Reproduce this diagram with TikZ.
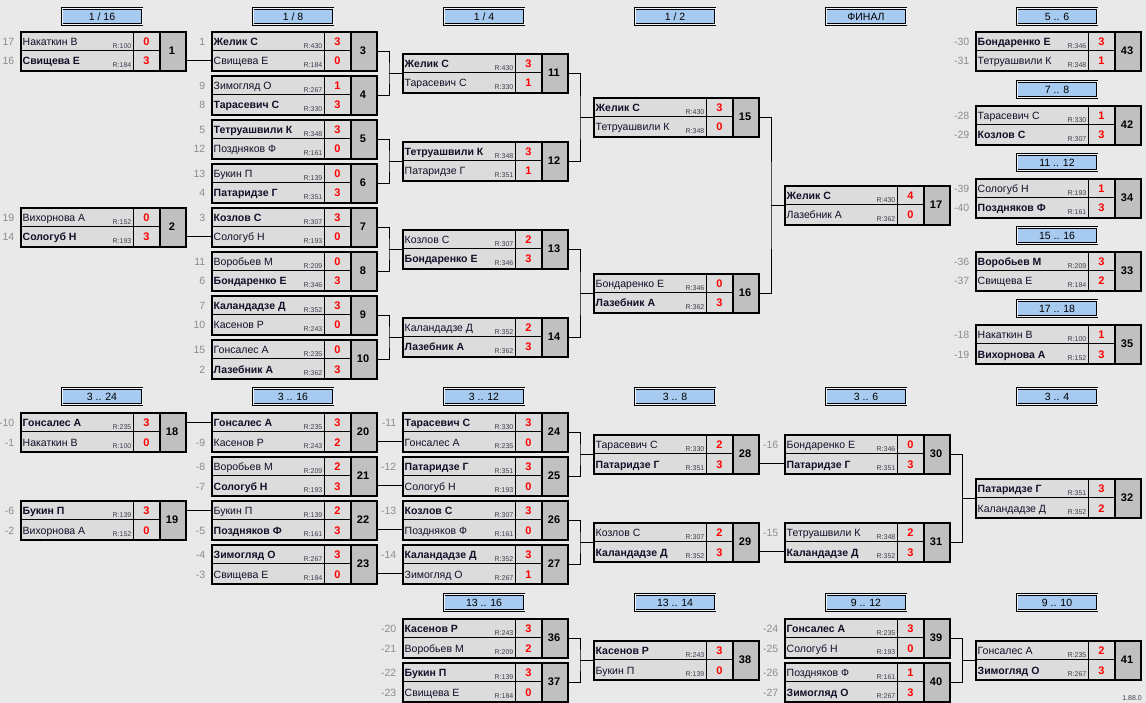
\documentclass[tikz,border=0pt]{standalone}
\usepackage{fontspec}
\setmainfont{Liberation Sans}
\usetikzlibrary{calc}
\definecolor{bg}{HTML}{E9E9E9}
\definecolor{rowfill}{HTML}{DCDCDC}
\definecolor{numfill}{HTML}{C0C0C0}
\definecolor{hblue}{HTML}{A6CAF0}
\definecolor{hgap}{HTML}{EEF3FA}
\definecolor{seedgray}{HTML}{8C8C8C}
\definecolor{rtext}{HTML}{404050}
\definecolor{ntext}{HTML}{101028}
\begin{document}
\begin{tikzpicture}[x=1pt,y=-1pt,
  conn/.style={draw=black,line width=1pt},
  frame/.style={draw=black,line width=2pt,minimum width=165pt,minimum height=39pt,inner sep=0pt,anchor=north west},
  hdr/.style={draw=black,line width=0.9pt,double=hgap,double distance=1pt,fill=hblue,minimum width=80pt,minimum height=16pt,inner sep=0pt,font=\fontsize{10.5}{12}\selectfont},
  pname/.style={anchor=base west,inner sep=0pt,text=ntext,font=\fontsize{10.5}{12}\selectfont},
  prat/.style={anchor=base east,inner sep=0pt,text=rtext,font=\fontsize{7}{8}\selectfont},
  pscore/.style={anchor=base,inner sep=0pt,text=red,font=\bfseries\fontsize{11}{12}\selectfont},
  pnum/.style={anchor=center,inner sep=0pt,font=\bfseries\fontsize{11}{12}\selectfont},
  pseed/.style={anchor=base east,inner sep=0pt,text=seedgray,font=\fontsize{10.5}{12}\selectfont}]
\fill[bg] (0,0) rectangle (1146,703);
\useasboundingbox (0,0) rectangle (1146,703);

% headers
\foreach \C/\Y/\T [count=\i] in {
 0/7/{1 / 16}, 1/7/{1 / 8}, 2/7/{1 / 4}, 3/7/{1 / 2}, 4/7/{ФИНАЛ}, 5/7/{5 .. 6},
 5/80/{7 .. 8}, 5/153/{11 .. 12}, 5/226/{15 .. 16}, 5/299/{17 .. 18},
 0/387/{3 .. 24}, 1/387/{3 .. 16}, 2/387/{3 .. 12}, 3/387/{3 .. 8}, 4/387/{3 .. 6}, 5/387/{3 .. 4},
 2/593/{13 .. 16}, 3/593/{13 .. 14}, 4/593/{9 .. 12}, 5/593/{9 .. 10}}{
  \pgfmathsetmacro\X{19.5+191*\C+82.5}
  \pgfmathsetmacro\YY{\Y+9.5}
  \node[hdr] (h\i) at (\X,\YY) {\T};
}

% matches: id/col/top/winner/nameA/rA/sA/nameB/rB/sB/seedA/seedB
\foreach \M/\C/\Y/\W/\pA/\rA/\sA/\pB/\rB/\sB/\kA/\kB in {
 1/0/31/2/Накаткин В/100/0/Свищева Е/184/3/17/16,
 2/0/207/2/Вихорнова А/152/0/Сологуб Н/193/3/19/14,
 3/1/31/1/Желик С/430/3/Свищева Е/184/0/1/{},
 4/1/75/2/Зимогляд О/267/1/Тарасевич С/330/3/9/8,
 5/1/119/1/Тетруашвили К/348/3/Поздняков Ф/161/0/5/12,
 6/1/163/2/Букин П/139/0/Патаридзе Г/351/3/13/4,
 7/1/207/1/Козлов С/307/3/Сологуб Н/193/0/3/{},
 8/1/251/2/Воробьев М/209/0/Бондаренко Е/346/3/11/6,
 9/1/295/1/Каландадзе Д/352/3/Касенов Р/243/0/7/10,
 10/1/339/2/Гонсалес А/235/0/Лазебник А/362/3/15/2,
 11/2/53/1/Желик С/430/3/Тарасевич С/330/1/{}/{},
 12/2/141/1/Тетруашвили К/348/3/Патаридзе Г/351/1/{}/{},
 13/2/229/2/Козлов С/307/2/Бондаренко Е/346/3/{}/{},
 14/2/317/2/Каландадзе Д/352/2/Лазебник А/362/3/{}/{},
 15/3/97/1/Желик С/430/3/Тетруашвили К/348/0/{}/{},
 16/3/273/2/Бондаренко Е/346/0/Лазебник А/362/3/{}/{},
 17/4/185/1/Желик С/430/4/Лазебник А/362/0/{}/{},
 43/5/31/1/Бондаренко Е/346/3/Тетруашвили К/348/1/-30/-31,
 42/5/105/2/Тарасевич С/330/1/Козлов С/307/3/-28/-29,
 34/5/178/2/Сологуб Н/193/1/Поздняков Ф/161/3/-39/-40,
 33/5/251/1/Воробьев М/209/3/Свищева Е/184/2/-36/-37,
 35/5/324/2/Накаткин В/100/1/Вихорнова А/152/3/-18/-19,
 18/0/412/1/Гонсалес А/235/3/Накаткин В/100/0/-10/-1,
 19/0/500/1/Букин П/139/3/Вихорнова А/152/0/-6/-2,
 20/1/412/1/Гонсалес А/235/3/Касенов Р/243/2/{}/-9,
 21/1/456/2/Воробьев М/209/2/Сологуб Н/193/3/-8/-7,
 22/1/500/2/Букин П/139/2/Поздняков Ф/161/3/{}/-5,
 23/1/544/1/Зимогляд О/267/3/Свищева Е/184/0/-4/-3,
 24/2/412/1/Тарасевич С/330/3/Гонсалес А/235/0/-11/{},
 25/2/456/1/Патаридзе Г/351/3/Сологуб Н/193/0/-12/{},
 26/2/500/1/Козлов С/307/3/Поздняков Ф/161/0/-13/{},
 27/2/544/1/Каландадзе Д/352/3/Зимогляд О/267/1/-14/{},
 28/3/434/2/Тарасевич С/330/2/Патаридзе Г/351/3/{}/{},
 29/3/522/2/Козлов С/307/2/Каландадзе Д/352/3/{}/{},
 30/4/434/2/Бондаренко Е/346/0/Патаридзе Г/351/3/-16/{},
 31/4/522/2/Тетруашвили К/348/2/Каландадзе Д/352/3/-15/{},
 32/5/478/1/Патаридзе Г/351/3/Каландадзе Д/352/2/{}/{},
 36/2/618/1/Касенов Р/243/3/Воробьев М/209/2/-20/-21,
 37/2/662/1/Букин П/139/3/Свищева Е/184/0/-22/-23,
 38/3/640/1/Касенов Р/243/3/Букин П/139/0/{}/{},
 39/4/618/1/Гонсалес А/235/3/Сологуб Н/193/0/-24/-25,
 40/4/662/2/Поздняков Ф/161/1/Зимогляд О/267/3/-26/-27,
 41/5/640/2/Гонсалес А/235/2/Зимогляд О/267/3/{}/{}}{
  \pgfmathsetmacro\X{19.5+191*\C}
  \fill[rowfill] (\X,\Y) rectangle ++(140,39);
  \fill[numfill] (\X+140,\Y) rectangle ++(25,39);
  \draw[black,line width=0.8pt] (\X,\Y+19.5) -- ++(140,0);
  \draw[black,line width=0.8pt] (\X+114,\Y) -- ++(0,39);
  \node[frame] (m\M) at (\X,\Y) {};
  \draw[black,line width=2pt] (\X+140,\Y) -- ++(0,39);
  \coordinate (ra\M) at (\X,\Y+10);
  \coordinate (rb\M) at (\X,\Y+29.5);
  \node[pname] (a\M) at (\X+3,\Y+14.5) {\ifnum\W=1 \bfseries\fi\pA};
  \node[pname] (b\M) at (\X+3,\Y+34) {\ifnum\W=2 \bfseries\fi\pB};
  \node[prat] (ar\M) at (\X+112,\Y+17.3) {R:\rA};
  \node[prat] (br\M) at (\X+112,\Y+36.6) {R:\rB};
  \node[pscore] (as\M) at (\X+127,\Y+14.5) {\sA};
  \node[pscore] (bs\M) at (\X+127,\Y+34) {\sB};
  \node[pnum] (n\M) at (\X+152.5,\Y+19.5) {\M};
  \node[pseed] (ak\M) at (\X-5,\Y+14.5) {\kA};
  \node[pseed] (bk\M) at (\X-5,\Y+34) {\kB};
}

% straight connectors
\foreach \s/\d in {1/rb3, 2/rb7, 18/ra20, 19/ra22, 20/rb24, 21/rb25, 22/rb26, 23/rb27, 28/rb30, 29/rb31}{
  \draw[conn] (m\s.east |- \d) -- (\d);
}
% bracket connectors
\foreach \a/\b/\t in {3/4/11, 5/6/12, 7/8/13, 9/10/14, 11/12/15, 13/14/16, 15/16/17,
  24/25/28, 26/27/29, 30/31/32, 36/37/38, 39/40/41}{
  \coordinate (j\t) at ([xshift=-12.5pt]m\t.west);
  \draw[conn] (m\a.east) -| (j\t) |- (m\b.east);
  \draw[conn] (j\t) -- (m\t.west);
}

\node[anchor=base east,inner sep=0pt,text=rtext,font=\fontsize{7}{8}\selectfont] (ver) at (1142,700) {1.88.0};
\end{tikzpicture}
\end{document}
